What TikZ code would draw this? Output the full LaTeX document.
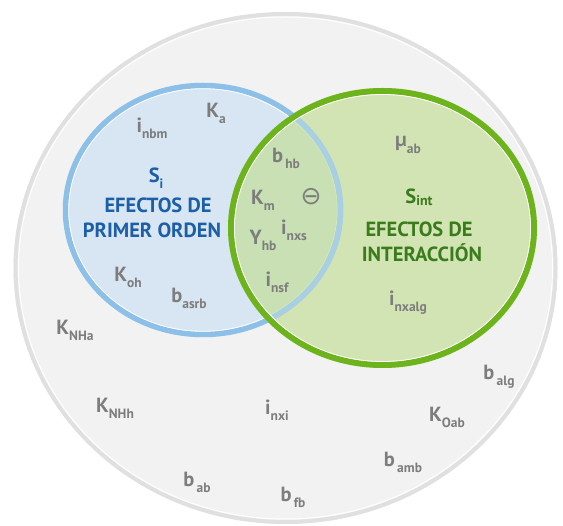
\documentclass[tikz,border=0pt]{standalone}
\usepackage{fontspec}
\setmainfont{PT Sans}
\newfontfamily\symfont{DejaVu Sans}
\definecolor{bgfill}{HTML}{F2F2F2}
\definecolor{bgring}{HTML}{E0E0E0}
\definecolor{bluefill}{HTML}{D7E6F2}
\definecolor{bluering}{HTML}{8DC0E8}
\definecolor{bluering2}{HTML}{A9CFE4}
\definecolor{greenfill}{HTML}{BEDC8A}
\definecolor{greenring}{HTML}{6DB31C}
\definecolor{txtgray}{HTML}{7D7D7D}
\definecolor{txtblue}{HTML}{1D5EA8}
\definecolor{txtgreen}{HTML}{3A7B1C}
\newcommand\lbl[2]{#1\raisebox{-0.3em}{\fontsize{13.5}{13.5}\selectfont #2}}
\tikzset{
  var/.style={font=\fontsize{20.5}{20.5}\selectfont\bfseries, text=txtgray, inner sep=0pt},
  ttlblue/.style={font=\fontsize{20.5}{20.5}\selectfont\bfseries, text=txtblue, inner sep=0pt},
  ttlgreen/.style={font=\fontsize{20.5}{20.5}\selectfont\bfseries, text=txtgreen, inner sep=0pt},
}
\begin{document}
\begin{tikzpicture}[x=1pt,y=-1pt]
\useasboundingbox (0,0) rectangle (563,526);
% outer set
\fill[bgfill] (285.5,268) ellipse [x radius=272, y radius=256];
\draw[bgring, line width=4pt] (285.5,268) ellipse [x radius=270, y radius=254];
\draw[white, line width=1pt] (285.5,268) ellipse [x radius=267, y radius=251];
% blue set
\fill[bluefill] (203,210) ellipse [x radius=140, y radius=127];
\draw[bluering, line width=5.5pt] (203,210) ellipse [x radius=137.5, y radius=124.5];
\draw[white, line width=0.8pt] (203,210) ellipse [x radius=134.3, y radius=121.3];
% green set
\fill[greenfill, opacity=0.6] (382.5,228) ellipse [x radius=154.5, y radius=140];
\begin{scope}
  \clip (382.5,228) ellipse [x radius=151.5, y radius=137];
  \draw[bluering2, line width=5.5pt] (203,210) ellipse [x radius=137.5, y radius=124.5];
\end{scope}
\draw[greenring, line width=6pt] (382.5,228) ellipse [x radius=151.5, y radius=137];
\draw[white, line width=0.8pt] (382.5,228) ellipse [x radius=148, y radius=133.5];
% first-order labels
\node[var] (ka) at (216,113) {\lbl{K}{a}};
\node[var] (inbm) at (152,128) {\lbl{i}{nbm}};
\node[ttlblue] (si) at (156,178) {\lbl{S}{i}};
\node[ttlblue] (ef1) at (158,205) {EFECTOS DE};
\node[ttlblue] (po) at (152,230) {PRIMER ORDEN};
\node[var] (koh) at (128,277) {\lbl{K}{oh}};
\node[var] (basrb) at (189,298) {\lbl{b}{asrb}};
% intersection
\node[var] (bhb) at (286,158) {\lbl{b}{\,hb}};
\node[var] (km) at (263,200) {\lbl{K}{m}};
\node[var, font=\fontsize{25}{25}\selectfont\symfont] (theta) at (311,197) {⊖};
\node[var] (inxs) at (294,230) {\lbl{i}{nxs}};
\node[var] (yhb) at (263,240) {\lbl{Y}{hb}};
\node[var] (insf) at (277,282) {\lbl{i}{nsf}};
% interaction labels
\node[var] (muab) at (408,145) {\lbl{µ}{ab}};
\node[ttlgreen] (sint) at (419,197) {S\raisebox{-0.1em}{\fontsize{14}{14}\selectfont int}};
\node[ttlgreen] (ef2) at (419,229) {EFECTOS DE};
\node[ttlgreen] (inter) at (422,253) {INTERACCIÓN};
\node[var] (inxalg) at (408,303) {\lbl{i}{nxalg}};
% outside
\node[var] (knha) at (75,330) {\lbl{K}{NHa}};
\node[var] (balg) at (499,377) {\lbl{b}{\,alg}};
\node[var] (knhh) at (115,408) {\lbl{K}{NHh}};
\node[var] (inxi) at (277,410) {\lbl{i}{nxi}};
\node[var] (koab) at (447,417) {\lbl{K}{Oab}};
\node[var] (bamb) at (403,462) {\lbl{b}{\,amb}};
\node[var] (bab) at (197,482) {\lbl{b}{\,ab}};
\node[var] (bfb) at (293,497) {\lbl{b}{\,fb}};
\end{tikzpicture}
\end{document}
